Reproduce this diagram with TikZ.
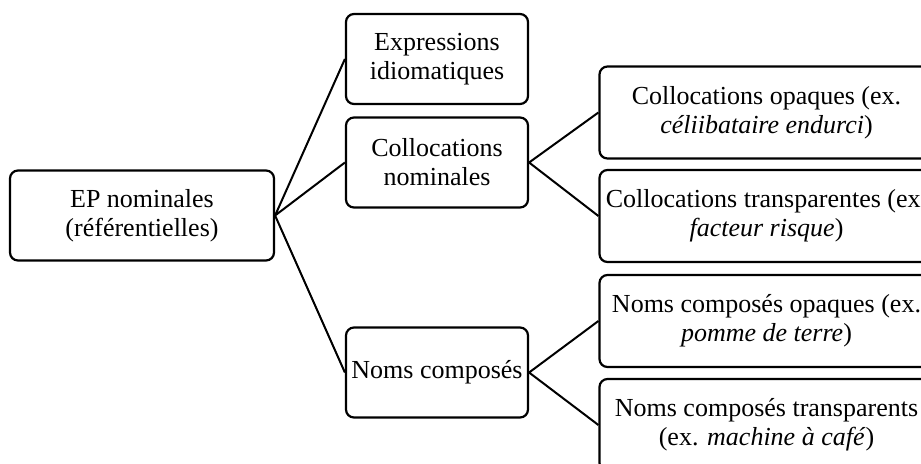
\documentclass[tikz,border=0pt]{standalone}
\usepackage{fontspec}
\setmainfont{Liberation Serif}
\begin{document}
\begin{tikzpicture}[
  x=0.5pt, y=-0.5pt,
  box/.style={draw, line width=1.1pt, rounded corners=4pt, align=center, inner sep=0pt,
    minimum height=45pt, font=\fontsize{13}{14.5}\selectfont},
  mid/.style={box, minimum width=91pt},
  leaf/.style={box, minimum width=167pt, minimum height=46pt},
  lnk/.style={line width=1pt}
]
\useasboundingbox (0,0) rectangle (921,463);
\clip (0,0) rectangle (921,463);

\node[box, minimum width=132pt] (R) at (142, 215.5) {EP nominales\\(référentielles)};

\node[mid] (E) at (437, 59) {Expressions\\idiomatiques};
\node[mid] (C) at (437, 162.5) {Collocations\\nominales};
\node[mid] (N) at (437, 372.5) {Noms composés};

\node[leaf] (CO) at (766.5, 112.5) {Collocations opaques (ex.\\\textit{céliibataire endurci})};
\node[leaf] (CT) at (766.5, 216) {Collocations transparentes (ex.\\\textit{facteur risque})};
\node[leaf] (NO) at (766.5, 321) {Noms composés opaques (ex.\\\textit{pomme de terre})};
\node[leaf] (NT) at (766.5, 425) {Noms composés transparents\\(ex. \textit{machine à café})};

\draw[lnk] (R.east) -- (E.west) (R.east) -- (C.west) (R.east) -- (N.west);
\draw[lnk] (C.east) -- (CO.west) (C.east) -- (CT.west);
\draw[lnk] (N.east) -- (NO.west) (N.east) -- (NT.west);
\end{tikzpicture}
\end{document}
